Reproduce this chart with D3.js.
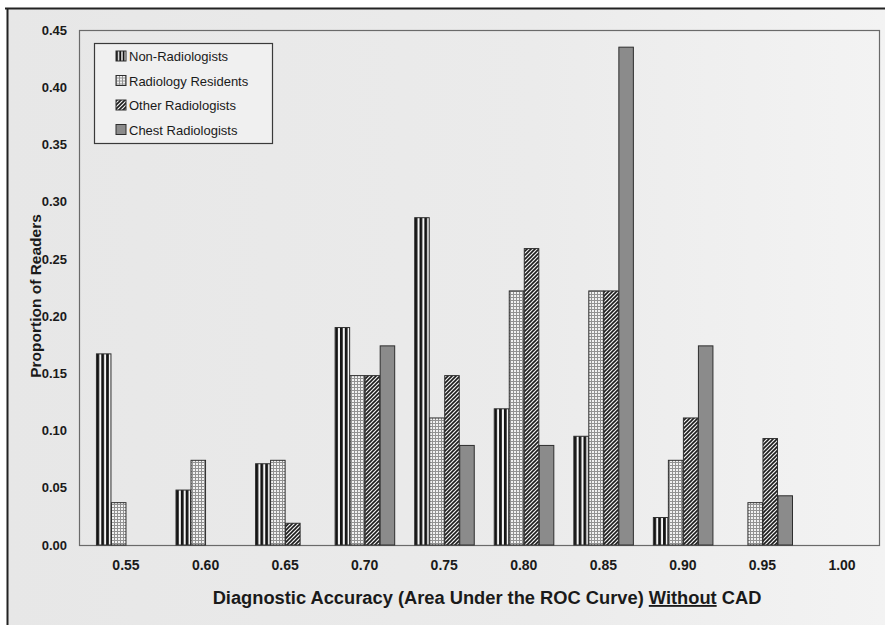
<!DOCTYPE html>
<html>
<head>
<meta charset="utf-8">
<script src="https://cdn.jsdelivr.net/npm/d3@7/dist/d3.min.js"></script>
<style>
  html, body { margin: 0; padding: 0; background: #ffffff; }
  svg { display: block; font-family: "Liberation Sans", Arial, Helvetica, sans-serif; }
</style>
</head>
<body>
<svg id="chart" width="885" height="625"></svg>
<script>
// Accuracy bins (area under the ROC curve, without CAD)
const categories = ["0.55", "0.60", "0.65", "0.70", "0.75", "0.80", "0.85", "0.90", "0.95", "1.00"];

// Proportion of readers in each bin, per reader group
const nonRadiologists    = [0.167, 0.048, 0.071, 0.190, 0.286, 0.119, 0.095, 0.024, 0, 0];
const radiologyResidents = [0.037, 0.074, 0.074, 0.148, 0.111, 0.222, 0.222, 0.074, 0.037, 0];
const otherRadiologists  = [0, 0, 0.019, 0.148, 0.148, 0.259, 0.222, 0.111, 0.093, 0];
const chestRadiologists  = [0, 0, 0, 0.174, 0.087, 0.087, 0.435, 0.174, 0.043, 0];

const seriesNames = ["Non-Radiologists", "Radiology Residents", "Other Radiologists", "Chest Radiologists"];
const seriesValues = [nonRadiologists, radiologyResidents, otherRadiologists, chestRadiologists];

const yTicks = [0, 0.05, 0.10, 0.15, 0.20, 0.25, 0.30, 0.35, 0.40, 0.45];

const svg = d3.select("#chart");
const W = 885, H = 625;

// page background with scanned-paper tone and border lines
const defs = svg.append("defs");
const bg = defs.append("linearGradient").attr("id", "paper").attr("x1", 0).attr("x2", 1).attr("y1", 0).attr("y2", 0);
bg.append("stop").attr("offset", 0).attr("stop-color", "#e7e7e7");
bg.append("stop").attr("offset", 0.6).attr("stop-color", "#ebebeb");
bg.append("stop").attr("offset", 1).attr("stop-color", "#f3f3f3");

svg.append("rect").attr("x", 0).attr("y", 0).attr("width", W).attr("height", H).attr("fill", "#ffffff");
svg.append("rect").attr("x", 8).attr("y", 9).attr("width", W - 8).attr("height", H - 9).attr("fill", "url(#paper)");
svg.append("line").attr("x1", 5).attr("x2", W).attr("y1", 8.5).attr("y2", 8.5).attr("stroke", "#222").attr("stroke-width", 2);
svg.append("line").attr("x1", 7.5).attr("x2", 7.5).attr("y1", 8).attr("y2", H).attr("stroke", "#222").attr("stroke-width", 2);

// fill patterns for the four reader groups
const vstripe = defs.append("pattern").attr("id", "pat-vstripe")
  .attr("patternUnits", "objectBoundingBox").attr("patternContentUnits", "objectBoundingBox")
  .attr("width", 1 / 3).attr("height", 1);
vstripe.append("rect").attr("width", 0.34).attr("height", 1).attr("fill", "#f6f6f6");
vstripe.append("rect").attr("x", 0).attr("width", 0.19).attr("height", 1).attr("fill", "#141414");

const dots = defs.append("pattern").attr("id", "pat-dots")
  .attr("patternUnits", "userSpaceOnUse").attr("width", 3).attr("height", 3);
dots.append("rect").attr("width", 3).attr("height", 3).attr("fill", "#f2f2f2");
dots.append("rect").attr("x", 0).attr("y", 0).attr("width", 3).attr("height", 1).attr("fill", "#929292");
dots.append("rect").attr("x", 0).attr("y", 0).attr("width", 1).attr("height", 3).attr("fill", "#929292");

const hatch = defs.append("pattern").attr("id", "pat-hatch")
  .attr("patternUnits", "userSpaceOnUse").attr("width", 4).attr("height", 4);
hatch.append("rect").attr("width", 4).attr("height", 4).attr("fill", "#f2f2f2");
hatch.append("path").attr("d", "M-1,1 l2,-2 M0,4 l4,-4 M3,5 l2,-2")
  .attr("stroke", "#1c1c1c").attr("stroke-width", 1.6);

const fills = ["url(#pat-vstripe)", "url(#pat-dots)", "url(#pat-hatch)", "#8b8b8b"];

// scales
const plot = { left: 79, right: 879, top: 30, bottom: 545 };

const x = d3.scaleBand()
  .domain(categories)
  .range([86.2, 881.8])
  .paddingInner(0.245)
  .paddingOuter(0.1225);

const xInner = d3.scaleBand()
  .domain(d3.range(seriesNames.length))
  .range([0, x.bandwidth()]);

const y = d3.scaleLinear().domain([0, 0.45]).range([plot.bottom, plot.top]);

// plot frame
svg.append("rect")
  .attr("x", plot.left + 0.5).attr("y", plot.top + 0.5)
  .attr("width", plot.right - plot.left).attr("height", plot.bottom - plot.top)
  .attr("fill", "none").attr("stroke", "#6a6a6a").attr("stroke-width", 1.2);

// bars
const rows = [];
categories.forEach((c, i) => {
  seriesValues.forEach((vals, s) => {
    if (vals[i] > 0) rows.push({ cat: c, s, v: vals[i] });
  });
});

svg.append("g").selectAll("rect").data(rows).join("rect")
  .attr("x", d => x(d.cat) + xInner(d.s) + 0.5)
  .attr("y", d => y(d.v))
  .attr("width", xInner.bandwidth() - 0.5)
  .attr("height", d => y(0) - y(d.v))
  .attr("fill", d => fills[d.s])
  .attr("stroke", "#2e2e2e")
  .attr("stroke-width", 1);

// y axis labels
const yAxis = d3.axisLeft(y).tickValues(yTicks).tickFormat(d3.format(".2f")).tickSize(0).tickPadding(12);
const gy = svg.append("g").attr("transform", `translate(${plot.left},0)`).call(yAxis);
gy.select(".domain").remove();
gy.selectAll("text").attr("font-size", 13).attr("font-weight", "bold").attr("fill", "#1a1a1a")
  .attr("font-family", "Liberation Sans, Arial, sans-serif");

// x axis labels
const xAxis = d3.axisBottom(x).tickSize(0).tickPadding(15);
const gx = svg.append("g").attr("transform", `translate(0,${plot.bottom})`).call(xAxis);
gx.select(".domain").remove();
gx.selectAll("text").attr("font-size", 14).attr("font-weight", "bold").attr("fill", "#1a1a1a")
  .attr("font-family", "Liberation Sans, Arial, sans-serif");

// axis titles
svg.append("text")
  .attr("transform", "translate(41,296) rotate(-90)")
  .attr("text-anchor", "middle")
  .attr("font-size", 15.5).attr("font-weight", "bold").attr("fill", "#1a1a1a")
  .text("Proportion of Readers");

const xt = svg.append("text")
  .attr("x", 487).attr("y", 604)
  .attr("text-anchor", "middle")
  .attr("font-size", 18.3).attr("font-weight", "bold").attr("fill", "#1a1a1a");
xt.append("tspan").text("Diagnostic Accuracy (Area Under the ROC Curve) ");
xt.append("tspan").attr("text-decoration", "underline").text("Without");
xt.append("tspan").text(" CAD");

// legend
const lg = svg.append("g");
lg.append("rect").attr("x", 94.5).attr("y", 43.5).attr("width", 178).attr("height", 100)
  .attr("fill", "#f0f0f0").attr("stroke", "#3a3a3a").attr("stroke-width", 1.2);
const items = lg.selectAll("g.item").data(seriesNames).join("g")
  .attr("class", "item")
  .attr("transform", (d, i) => `translate(116,${56 + i * 24.5})`);
items.append("rect").attr("x", 0).attr("y", -5).attr("width", 10).attr("height", 10)
  .attr("fill", (d, i) => fills[i]).attr("stroke", "#2e2e2e").attr("stroke-width", 1);
items.append("text").attr("x", 13).attr("y", 5)
  .attr("font-size", 13).attr("fill", "#1a1a1a").text(d => d);
</script>
</body>
</html>
